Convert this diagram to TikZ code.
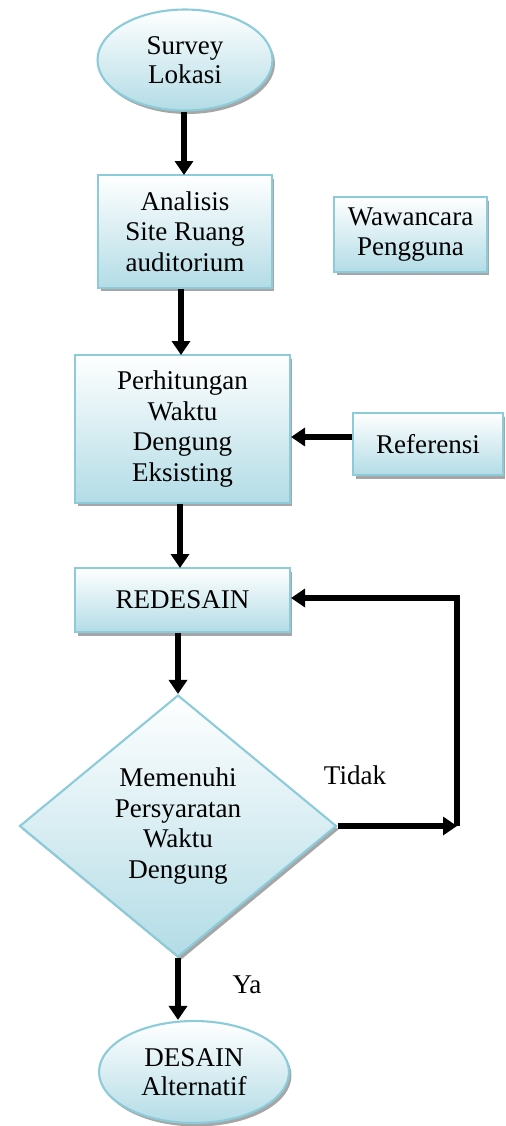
\documentclass[tikz,border=0pt]{standalone}
\usepackage{fontspec}
\setmainfont{Liberation Serif}
\usepackage{xcolor}
\usepackage{tikz}
\usetikzlibrary{shapes.geometric,shadows,arrows.meta}

\definecolor{boxline}{HTML}{8CCBD9}
\definecolor{boxfill}{HTML}{B3DCE6}

\begin{document}
\begin{tikzpicture}[x=0.02cm,y=-0.02cm,
    every node/.style={align=center,font=\fontsize{15.4}{17.4}\selectfont},
    blok/.style={draw=boxline,line width=1.2pt,top color=white,bottom color=boxfill,
        drop shadow={shadow xshift=0.05cm,shadow yshift=-0.07cm,fill=gray!70,opacity=1},inner sep=0pt},
    kotak/.style={blok,shape=rectangle},
    lonjong/.style={blok,shape=ellipse},
    belah/.style={blok,shape=diamond},
    panah/.style={line width=3.1pt,-{Triangle[length=0.28cm,width=0.36cm]}}]
  \useasboundingbox (0,0) rectangle (506,1126);

  \node[lonjong,minimum width=3.5cm,minimum height=2.02cm,font=\fontsize{15.4}{16.2}\selectfont] (survey) at (185,60) {Survey\\Lokasi};
  \node[kotak,minimum width=3.48cm,minimum height=2.26cm] (analisis) at (185,231.5) {Analisis\\Site Ruang\\auditorium};
  \node[kotak,minimum width=3.06cm,minimum height=1.5cm] (wawancara) at (410.5,234.5) {Wawancara\\Pengguna};
  \node[kotak,minimum width=4.3cm,minimum height=2.96cm] (hitung) at (182.5,429) {Perhitungan\\Waktu\\Dengung\\Eksisting};
  \node[kotak,minimum width=3.0cm,minimum height=1.24cm] (referensi) at (428,444) {Referensi};
  \node[kotak,minimum width=4.3cm,minimum height=1.28cm] (redesain) at (182.5,600) {REDESAIN};
  \node[belah,minimum width=6.34cm,minimum height=5.24cm] (syarat) at (178,826) {Memenuhi\\Persyaratan\\Waktu\\Dengung};
  \node[lonjong,minimum width=3.8cm,minimum height=2.04cm,font=\fontsize{15.4}{16.2}\selectfont] (desain) at (194,1072) {DESAIN\\Alternatif};

  \coordinate (belok) at (457,826);

  \draw[panah] (survey.south -| 184,0) -- (184,175);
  \draw[panah] (analisis.south -| 181,0) -- (181,355);
  \draw[panah] (referensi.west |- 0,437) -- (hitung.east |- 0,437);
  \draw[panah] (hitung.south -| 180,0) -- (180,568);
  \draw[panah] (redesain.south -| syarat.north) -- (syarat.north);
  \draw[panah] (syarat.east) -- (belok);
  \draw[panah] (belok) |- (redesain.east |- 0,598);
  \draw[panah] (syarat.south) -- (desain.north -| syarat.south);

  \node (tidak) at (355,775) {Tidak};
  \node (ya) at (247,985) {Ya};
\end{tikzpicture}
\end{document}
